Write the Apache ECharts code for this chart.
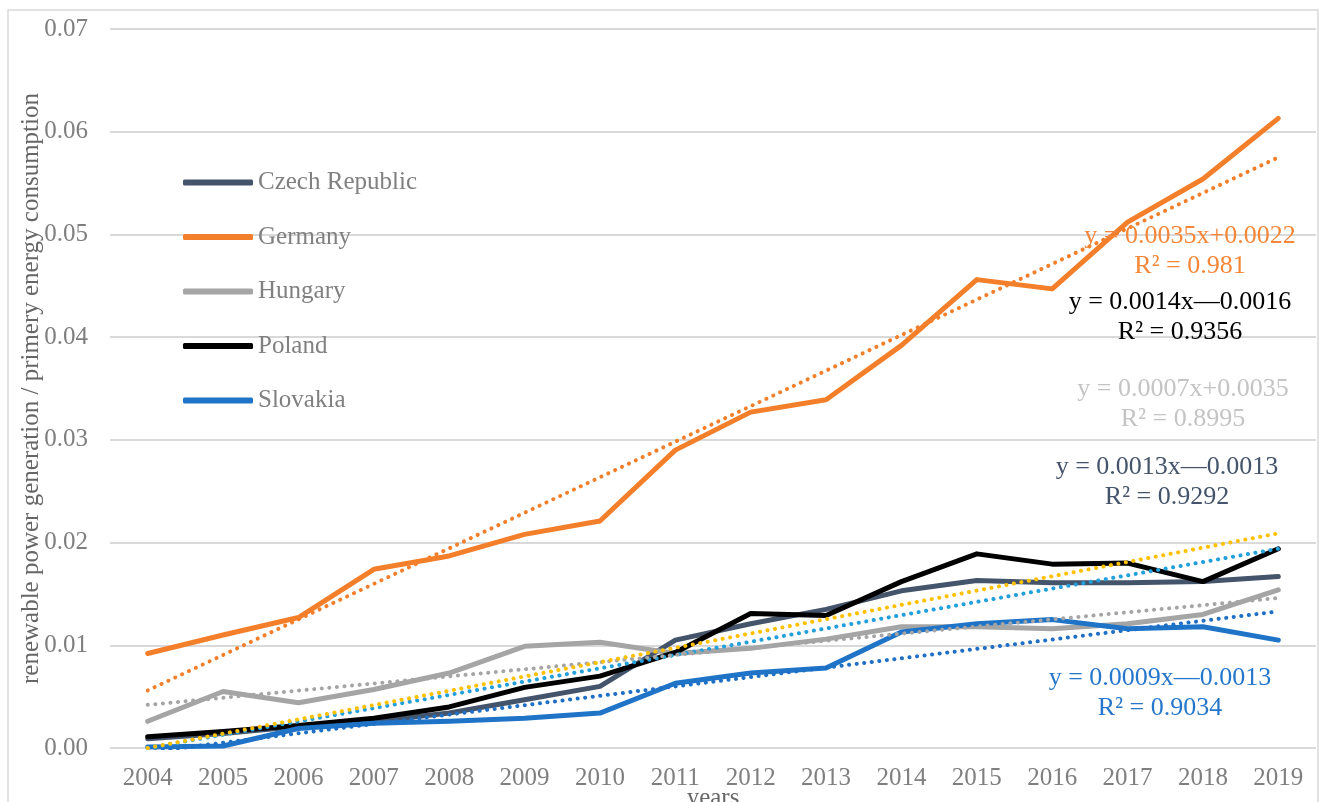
<!DOCTYPE html>
<html>
<head>
<meta charset="utf-8">
<title>renewable power generation / primery energy consumption</title>
<script src="https://cdn.jsdelivr.net/npm/echarts@6/dist/echarts.min.js"></script>
<style>
  html, body { margin: 0; padding: 0; background: #fff; }
  #main { width: 1319px; height: 802px; }
</style>
</head>
<body>
<div id="main"></div>
<script>
var years = ['2004', '2005', '2006', '2007', '2008', '2009', '2010', '2011',
             '2012', '2013', '2014', '2015', '2016', '2017', '2018', '2019'];
var countries = ['Czech Republic', 'Germany', 'Hungary', 'Poland', 'Slovakia'];

var czech    = [0.0009, 0.0014, 0.0021, 0.0026, 0.0034, 0.0047, 0.0060, 0.0105, 0.0121, 0.0135, 0.0153, 0.0163, 0.0161, 0.0161, 0.0162, 0.0167];
var germany  = [0.0092, 0.0110, 0.0127, 0.0174, 0.0187, 0.0208, 0.0221, 0.0290, 0.0327, 0.0339, 0.0392, 0.0456, 0.0447, 0.0512, 0.0554, 0.0613];
var hungary  = [0.0026, 0.0055, 0.0044, 0.0057, 0.0073, 0.0099, 0.0103, 0.0092, 0.0097, 0.0106, 0.0118, 0.0118, 0.0116, 0.0121, 0.0130, 0.0154];
var poland   = [0.0011, 0.0016, 0.0022, 0.0029, 0.0040, 0.0059, 0.0070, 0.0093, 0.0131, 0.0129, 0.0162, 0.0189, 0.0179, 0.0180, 0.0162, 0.0194];
var slovakia = [0.0001, 0.0002, 0.0019, 0.0024, 0.0026, 0.0029, 0.0034, 0.0063, 0.0073, 0.0078, 0.0113, 0.0121, 0.0125, 0.0116, 0.0118, 0.0105];

// linear trend lines, value at 2004 and at 2019 (same order as countries)
var trendStart = [0.0000, 0.0056, 0.0042, 0.0000, -0.0004];
var trendEnd   = [0.0194, 0.0575, 0.0146, 0.0209, 0.0133];
var trendLabels = [
  ['y = 0.0013x\u20140.0013', 'R\u00b2 = 0.9292'],
  ['y = 0.0035x+0.0022', 'R\u00b2 = 0.981'],
  ['y = 0.0007x+0.0035', 'R\u00b2 = 0.8995'],
  ['y = 0.0014x\u20140.0016', 'R\u00b2 = 0.9356'],
  ['y = 0.0009x\u20140.0013', 'R\u00b2 = 0.9034']
];
var yTicks = ['0.00', '0.01', '0.02', '0.03', '0.04', '0.05', '0.06', '0.07'];

var lineColors  = ['#44546A', '#F47F2A', '#A5A5A5', '#000000', '#1F74C8'];
var trendColors = ['#22A0DC', '#F47F2A', '#A5A5A5', '#FFC000', '#1F6FC5'];
var labelColors = ['#44546A', '#F4873A', '#C4C4C4', '#000000', '#2677CC'];
// label block centre positions on the page
var labelPos = [[1167, 482], [1190, 251], [1183, 404], [1180, 317], [1160, 693]];

var font = 'Liberation Serif';
var allData = [czech, germany, hungary, poland, slovakia];

var series = [];
countries.forEach(function (name, i) {
  series.push({
    name: name,
    type: 'line',
    data: allData[i],
    symbol: 'none',
    z: 2,
    lineStyle: { width: 5, color: lineColors[i], cap: 'round', join: 'round' },
    itemStyle: { color: lineColors[i] }
  });
});
countries.forEach(function (name, i) {
  series.push({
    name: name + ' trend',
    type: 'line',
    data: [[years[0], trendStart[i]], [years[years.length - 1], trendEnd[i]]],
    symbol: 'none',
    z: 3,
    lineStyle: { width: 4, color: trendColors[i], type: [0.1, 7.5], cap: 'round' }
  });
});

var graphics = [{
  type: 'rect',
  shape: { x: 8, y: 10, width: 1310, height: 800 },
  style: { fill: null, stroke: '#D9D9D9', lineWidth: 1.5 },
  z: -1
}];
trendLabels.forEach(function (t, i) {
  graphics.push({
    type: 'text',
    x: labelPos[i][0],
    y: labelPos[i][1],
    style: {
      text: t[0] + '\n' + t[1],
      fill: labelColors[i],
      font: '26px "' + font + '"',
      align: 'center',
      verticalAlign: 'middle',
      lineHeight: 30
    },
    z: 10
  });
});

var myChart = echarts.init(document.getElementById('main'));
var option = {
  animation: false,
  textStyle: { fontFamily: font },
  grid: { left: 110, right: 3, top: 29, bottom: 54, outerBoundsMode: 'none', containLabel: false },
  legend: {
    data: countries,
    orient: 'vertical',
    left: 178,
    top: 165,
    icon: 'roundRect',
    itemWidth: 70,
    itemHeight: 6,
    itemGap: 29.5,
    textStyle: { color: '#808080', fontSize: 25, fontFamily: font }
  },
  xAxis: {
    type: 'category',
    data: years,
    name: 'years',
    nameLocation: 'middle',
    nameGap: 38,
    nameMoveOverlap: false,
    nameTextStyle: { color: '#666666', fontSize: 25, fontFamily: font },
    axisLine: { show: false },
    axisTick: { show: false },
    axisLabel: { color: '#7F7F7F', fontSize: 25, fontFamily: font, margin: 18 }
  },
  yAxis: {
    type: 'value',
    min: 0,
    max: 0.07,
    interval: 0.01,
    name: 'renewable power generation / primery energy consumption',
    nameLocation: 'middle',
    nameGap: 66,
    nameMoveOverlap: false,
    nameTextStyle: { color: '#666666', fontSize: 25, fontFamily: font },
    axisLabel: {
      color: '#7F7F7F', fontSize: 25, fontFamily: font, margin: 22,
      formatter: function (v) { return yTicks[Math.round(v * 100)]; }
    },
    splitLine: { lineStyle: { color: '#D9D9D9', width: 2 } }
  },
  graphic: graphics,
  series: series
};
myChart.setOption(option);
</script>
</body>
</html>
